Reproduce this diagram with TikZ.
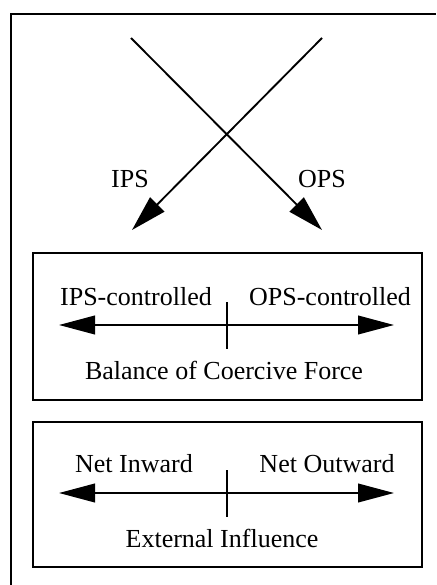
\documentclass[tikz,border=0pt]{standalone}
\usepackage{fontspec}
\setmainfont{Liberation Serif}
\usetikzlibrary{arrows.meta}
\begin{document}
\begin{tikzpicture}[x=0.75pt,y=-0.75pt,
  line width=1.4pt,
  head/.style={-{Triangle[length=27pt,width=15pt]}},
  both/.style={{Triangle[length=27pt,width=14pt]}-{Triangle[length=27pt,width=14pt]}},
  lbl/.style={font=\fontsize{19.5}{22}\selectfont, inner sep=0pt, anchor=base},
  panel/.style={draw, line width=1.6pt, minimum width=291.75pt, inner sep=0pt}]
\useasboundingbox (0,0) rectangle (436,585);

% frame (left and top edges)
\draw[line width=1.6pt] (11,585) -- (11,14) -- (436,14);

% crossing arrows
\coordinate (ipsS) at (322,38);
\coordinate (ipsE) at (132,230);
\coordinate (opsS) at (131,38);
\coordinate (opsE) at (322,230);
\draw[head] (ipsS) -- (ipsE);
\draw[head] (opsS) -- (opsE);
\node[lbl] (ips) at (130,187) {IPS};
\node[lbl] (ops) at (322,187) {OPS};

% panel: balance of coercive force
\node[panel, minimum height=110.25pt] (box1) at (227.5,326.5) {};
\coordinate (b1l) at (59,325);
\coordinate (b1r) at (394,325);
\coordinate (b1t) at (227,302);
\coordinate (b1b) at (227,349);
\draw[both] (b1l) -- (b1r);
\draw (b1t) -- (b1b);
\node[lbl] (ipsc) at (136,305) {IPS-controlled};
\node[lbl] (opsc) at (330,305) {OPS-controlled};
\node[lbl] (bal) at (224,379) {Balance of Coercive Force};

% panel: external influence
\node[panel, minimum height=108.75pt] (box2) at (227.5,494.5) {};
\coordinate (b2l) at (59,493);
\coordinate (b2r) at (394,493);
\coordinate (b2t) at (227,470);
\coordinate (b2b) at (227,517);
\draw[both] (b2l) -- (b2r);
\draw (b2t) -- (b2b);
\node[lbl] (inw) at (134,472) {Net Inward};
\node[lbl] (outw) at (327,472) {Net Outward};
\node[lbl] (ext) at (222,547) {External Influence};
\end{tikzpicture}
\end{document}
